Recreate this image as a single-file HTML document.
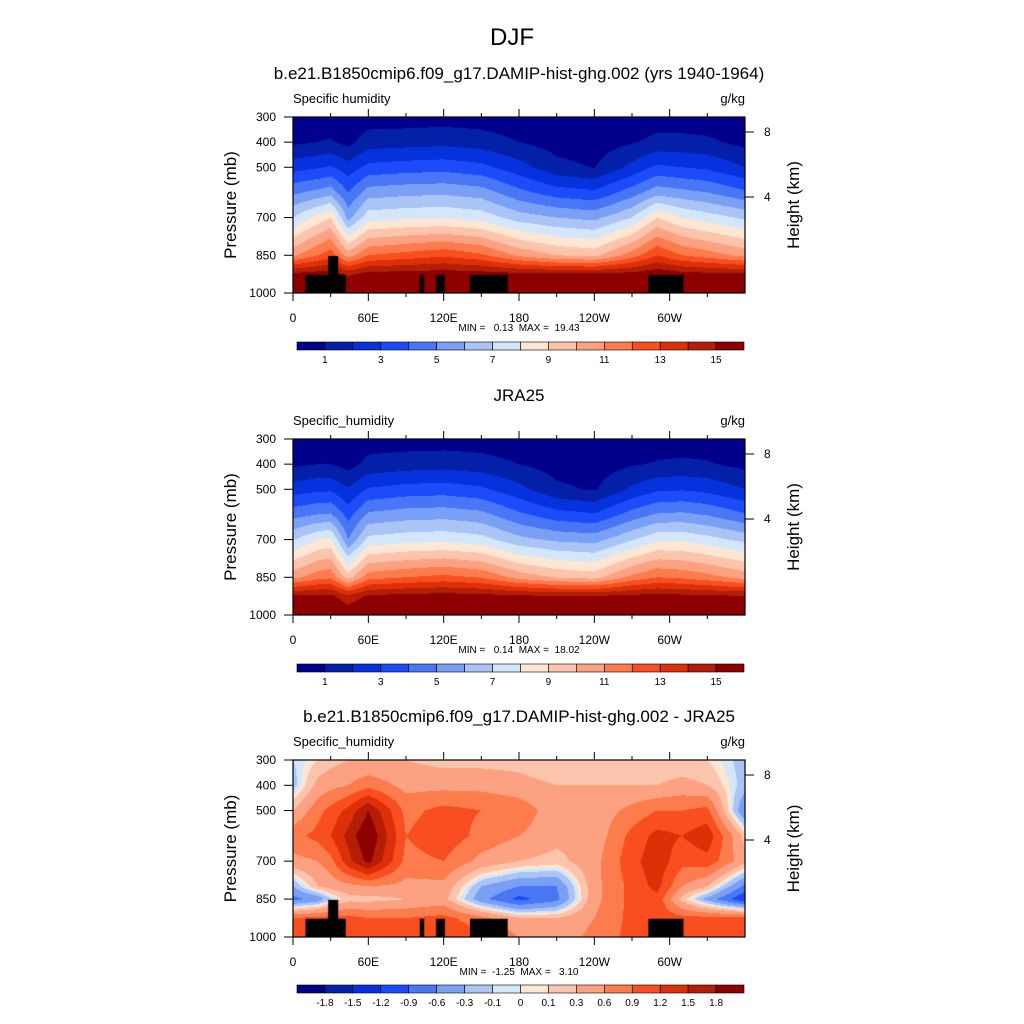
<!DOCTYPE html>
<html><head><meta charset="utf-8">
<style>
body{margin:0;background:#fff;width:1024px;height:1024px;overflow:hidden;position:relative;font-family:"Liberation Sans",sans-serif}
canvas{position:absolute}
svg{position:absolute;left:0;top:0}
text{white-space:pre}
</style></head>
<body>
<canvas id="c1" width="452" height="176" style="left:293px;top:117px"></canvas>
<canvas id="c2" width="452" height="176" style="left:293px;top:439px"></canvas>
<canvas id="c3" width="452" height="177" style="left:293px;top:760px"></canvas>
<svg id="ov" width="1024" height="1024"></svg>
<script>
const lons=[0,20,30,44,60,90,120,150,180,210,240,270,290,310,330,360];
const plevs=[300,400,500,600,700,850,925,1000];
const q1=[
[0.3,0.8,2.6,4.8,7.0,10.8,15.3,16.5],
[0.4,1.0,2.9,5.3,8.4,12.0,15.5,16.7],
[0.4,1.1,3.1,5.6,9.0,12.6,15.6,16.8],
[0.3,0.7,2.4,4.0,5.6,10.5,14.8,16.3],
[0.5,1.5,3.3,5.5,7.6,12.0,15.4,16.5],
[0.5,1.6,3.5,5.7,7.8,12.4,15.5,16.5],
[0.55,1.7,3.6,5.8,7.9,12.8,15.6,16.5],
[0.5,1.5,3.3,5.5,7.6,12.2,15.5,16.5],
[0.35,1.0,2.4,4.3,6.5,10.8,15.3,16.4],
[0.25,0.6,1.3,3.5,6.0,10.0,15.2,16.3],
[0.2,0.5,0.95,3.2,5.7,9.7,15.2,16.3],
[0.3,0.9,2.3,4.5,7.0,11.5,15.4,16.5],
[0.5,1.3,3.2,5.6,9.0,13.0,15.8,16.8],
[0.45,1.3,3.0,5.3,8.0,12.0,15.4,16.6],
[0.4,1.2,2.8,5.0,7.5,11.5,15.3,16.5],
[0.3,0.7,2.0,4.2,6.8,10.7,15.2,16.4]];
const q2=[
[0.3,0.8,2.5,4.6,6.9,10.7,15.2,16.5],
[0.4,1.0,2.8,5.0,8.0,11.6,15.3,16.5],
[0.4,1.0,2.8,5.1,8.2,11.8,15.3,16.3],
[0.3,0.6,2.1,3.6,5.0,9.5,14.3,15.8],
[0.5,1.3,3.1,5.2,7.3,11.6,15.2,16.4],
[0.5,1.5,3.4,5.5,7.6,12.0,15.4,16.5],
[0.5,1.6,3.5,5.6,7.7,12.3,15.5,16.5],
[0.5,1.4,3.2,5.3,7.4,11.9,15.4,16.5],
[0.35,1.0,2.3,4.2,6.3,10.6,15.2,16.4],
[0.25,0.6,1.2,3.4,5.8,9.9,15.1,16.3],
[0.2,0.5,0.9,3.1,5.6,9.6,15.1,16.3],
[0.3,0.9,2.2,4.4,6.9,11.3,15.3,16.5],
[0.4,1.1,2.8,5.1,7.8,12.0,15.4,16.3],
[0.45,1.2,2.9,5.2,7.8,11.8,15.3,16.5],
[0.4,1.1,2.7,4.9,7.4,11.4,15.2,16.5],
[0.3,0.7,2.0,4.1,6.7,10.6,15.1,16.4]];
const dlevs=[300,400,500,600,700,800,850,925,1000];
const d3=[
[-0.1,-0.2,0.3,0.8,0.5,-0.3,-0.7,0.9,1.0],
[0.1,0.4,0.8,1.0,0.6,0.3,-0.5,1.0,1.2],
[0.2,0.5,1.0,1.2,0.8,0.4,-0.1,1.0,1.2],
[0.3,0.6,1.3,1.6,1.4,0.5,0.2,1.0,1.2],
[0.3,0.8,1.8,2.1,1.9,0.6,0.2,0.9,1.1],
[0.3,0.5,0.8,0.9,0.8,0.5,0.3,0.9,1.0],
[0.2,0.5,1.0,1.1,0.9,0.5,0.4,1.0,1.2],
[0.2,0.5,0.9,0.8,0.5,-0.3,-0.5,0.7,1.0],
[0.2,0.4,0.8,0.6,0.3,-0.6,-1.0,0.3,0.6],
[0.1,0.3,0.4,0.4,0.2,-0.6,-0.7,0.3,0.4],
[0.1,0.3,0.4,0.4,0.5,0.5,0.5,0.6,0.7],
[0.1,0.3,0.7,1.0,1.1,1.0,1.0,1.0,1.0],
[0.1,0.3,0.9,1.3,1.4,1.3,1.1,1.1,1.0],
[0.1,0.4,0.9,1.2,1.0,0.6,0.2,1.0,1.0],
[0.1,0.3,1.0,1.4,1.1,0.3,-0.4,1.0,1.0],
[-0.2,-0.2,-0.6,0.2,0.4,-0.7,-1.2,1.0,1.0]];
const qLevels=[1,2,3,4,5,6,7,8,9,10,11,12,13,14,15];
const dLevels=[-1.8,-1.5,-1.2,-0.9,-0.6,-0.3,-0.1,0,0.1,0.3,0.6,0.9,1.2,1.5,1.8];
const qTicks=["1","3","5","7","9","11","13","15"];
const dTicks=["-1.8","-1.5","-1.2","-0.9","-0.6","-0.3","-0.1","0","0.1","0.3","0.6","0.9","1.2","1.5","1.8"];
const colors=["#00008a","#0520a8","#0532dc","#1c4cfa","#4876f5","#7aa0f5","#a9c4f5","#d4e6fa","#fde6d2","#fcc4ac","#fca282","#fc7c4e","#f94e20","#de3008","#b41e05","#8c0000"];
const oroStart=[10,28,101,114,141,283];
const oroEnd=[42,36,104.5,121,171,311];
const oroTop=[928,853,928,928,928,928];
const xTickLabels=["0","60E","120E","180","120W","60W"];
const pTicks=[300,400,500,700,850,1000];

const W=452;
function lonX(l){return l/360*W;}
function pY(p,h){return (p-300)/700*h;}
function interp(grid,pl,lon,p){
  let i=0;while(i<lons.length-2&&lon>lons[i+1])i++;
  let j=0;while(j<pl.length-2&&p>pl[j+1])j++;
  const tx=(lon-lons[i])/(lons[i+1]-lons[i]);
  const ty=(p-pl[j])/(pl[j+1]-pl[j]);
  const a=grid[i][j]*(1-ty)+grid[i][j+1]*ty;
  const b=grid[i+1][j]*(1-ty)+grid[i+1][j+1]*ty;
  return a*(1-tx)+b*tx;
}
function bin(v,lev){let k=0;while(k<lev.length&&v>=lev[k])k++;return k;}
function drawPanel(id,grid,pl,lev,oro){
  const c=document.getElementById(id),ctx=c.getContext('2d'),H=c.height;
  for(let x=0;x<W;x++){
    const lon=(x+0.5)/W*360;
    let y0=0,cur=-1;
    for(let y=0;y<=H;y++){
      let k=-2;
      if(y<H){const p=300+(y+0.5)/H*700;k=bin(interp(grid,pl,lon,p),lev);}
      if(k!==cur){
        if(cur>=0){ctx.fillStyle=colors[cur];ctx.fillRect(x,y0,1,y-y0);}
        cur=k;y0=y;
      }
    }
  }
  if(oro){ctx.fillStyle='#000';
    for(let i=0;i<oroStart.length;i++){
      const x0=lonX(oroStart[i]),x1=lonX(oroEnd[i]);const yy=pY(oroTop[i],H);
      ctx.fillRect(x0,yy,x1-x0,H-yy);
    }}
}
drawPanel('c1',q1,plevs,qLevels,true);
drawPanel('c2',q2,plevs,qLevels,false);
drawPanel('c3',d3,dlevs,dLevels,true);

const NS='http://www.w3.org/2000/svg';
const svg=document.getElementById('ov');
function el(tag,attrs,txt){const e=document.createElementNS(NS,tag);for(const k in attrs)e.setAttribute(k,attrs[k]);if(txt!==undefined)e.textContent=txt;svg.appendChild(e);return e;}
function text(x,y,s,size,anchor,name){const t=el('text',{x:x,y:y,'font-size':size,'text-anchor':anchor||'start',fill:'#000','font-family':'Liberation Sans, sans-serif'},s);

return t;}

text(512,45,"DJF",24,'middle','figure-title');
const titles=["b.e21.B1850cmip6.f09_g17.DAMIP-hist-ghg.002 (yrs 1940-1964)","JRA25","b.e21.B1850cmip6.f09_g17.DAMIP-hist-ghg.002 - JRA25"];
const tops=[117,439,760];
const heights=[176,176,177];
const vnames=["Specific humidity","Specific_humidity","Specific_humidity"];
const minmax=["MIN =   0.13  MAX =  19.43","MIN =   0.14  MAX =  18.02","MIN =  -1.25  MAX =   3.10"];
const x0=293;
for(let k=0;k<3;k++){
  const T=tops[k],H=heights[k];
  text(519,T-38,titles[k],17,'middle','panel-title');
  text(293,T-14,vnames[k],13,'start','variable-label');
  text(745,T-14,"g/kg",13,'end','units-label');
  const fr=el('rect',{x:x0,y:T,width:W,height:H,fill:'none',stroke:'#000','stroke-width':1.2});
  
  
  for(let l=0;l<=330;l+=30){
    const X=x0+lonX(l),len=(l%60===0)?8:4;
    if(l>0) el('line',{x1:X,y1:T,x2:X,y2:T-len,stroke:'#000'});
    el('line',{x1:X,y1:T+H,x2:X,y2:T+H+len,stroke:'#000'});
  }
  xTickLabels.forEach((s,i)=>text(x0+lonX(i*60),T+H+29,s,12,'middle','x-tick-label'));
  pTicks.forEach(p=>{const Y=T+pY(p,H);el('line',{x1:x0,y1:Y,x2:x0-9,y2:Y,stroke:'#000'});
    text(276,Y+4,String(p),12,'end','y-tick-label');});
  [[8,15],[4,80]].forEach(h=>{const Y=T+h[1];el('line',{x1:745,y1:Y,x2:754,y2:Y,stroke:'#000'});
    text(764,Y+4,String(h[0]),12,'start','height-tick-label');});
  const yt=text(0,0,"Pressure (mb)",17,'middle','y-axis-title');yt.setAttribute('transform',`translate(236,${T+H/2}) rotate(-90)`);
  const ht=text(0,0,"Height (km)",17,'middle','height-axis-title');ht.setAttribute('transform',`translate(799,${T+H/2}) rotate(-90)`);
  text(519,T+H+38,minmax[k],10,'middle','min-max-label');
  const cy=T+225,cx=297,cw=447/16;
  for(let i=0;i<16;i++){const r=el('rect',{x:cx+i*cw,y:cy,width:cw,height:8,fill:colors[i],stroke:'#000','stroke-width':0.6});
    
    }
  if(k<2){qTicks.forEach((s,i)=>text(cx+cw*(1+2*i),cy+21,s,10,'middle','colorbar-label'));}
  else{dTicks.forEach((s,i)=>text(cx+cw*(1+i),cy+21,s,10,'middle','colorbar-label'));}
}
</script>
</body></html>
